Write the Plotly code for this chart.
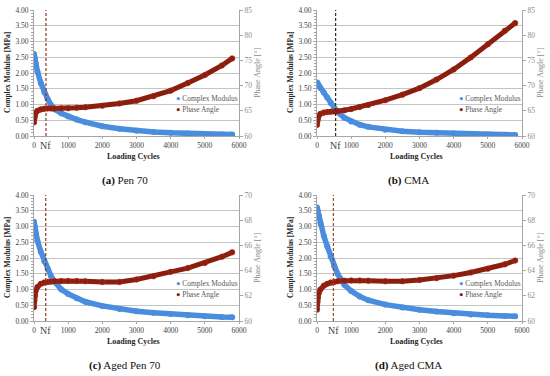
import plotly.graph_objects as go

# ---------------- data ----------------
cycles = [0, 10, 25, 50, 100, 200, 300, 400, 500, 600, 800, 1000, 1250, 1500,
          2000, 2500, 3000, 3500, 4000, 4500, 5000, 5500, 5800]

cm_pen70 = [2.60, 2.54, 2.45, 2.30, 2.05, 1.68, 1.40, 1.17, 0.98, 0.85, 0.72, 0.62, 0.52, 0.44,
            0.31, 0.23, 0.17, 0.13, 0.10, 0.08, 0.065, 0.05, 0.045]
pa_pen70 = [62.7, 63.4, 64.0, 64.6, 65.0, 65.3, 65.4, 65.45, 65.45, 65.45, 65.5, 65.5, 65.6, 65.7,
            66.0, 66.45, 67.0, 67.9, 69.0, 70.5, 72.1, 74.0, 75.4]

cm_cma = [1.70, 1.68, 1.65, 1.60, 1.52, 1.38, 1.22, 1.05, 0.88, 0.76, 0.58, 0.46, 0.36, 0.29,
          0.20, 0.15, 0.12, 0.10, 0.08, 0.065, 0.05, 0.04, 0.035]
pa_cma = [62.2, 62.9, 63.5, 64.0, 64.4, 64.65, 64.75, 64.8, 64.85, 64.9, 65.1, 65.35, 65.75, 66.15,
          67.1, 68.2, 69.5, 71.2, 73.2, 75.6, 78.2, 80.9, 82.4]

cm_aged_pen70 = [3.15, 3.05, 2.95, 2.78, 2.55, 2.20, 1.90, 1.65, 1.42, 1.25, 1.00, 0.86, 0.72, 0.61,
                 0.48, 0.38, 0.31, 0.26, 0.22, 0.18, 0.15, 0.13, 0.12]
pa_aged_pen70 = [61.1, 61.6, 62.0, 62.4, 62.7, 62.95, 63.05, 63.1, 63.12, 63.15, 63.17, 63.18, 63.17, 63.15,
                 63.1, 63.1, 63.3, 63.55, 63.9, 64.2, 64.6, 65.1, 65.45]

cm_aged_cma = [3.60, 3.55, 3.47, 3.35, 3.10, 2.70, 2.37, 2.05, 1.75, 1.50, 1.15, 0.95, 0.78, 0.66,
               0.52, 0.43, 0.36, 0.30, 0.25, 0.21, 0.18, 0.16, 0.15]
pa_aged_cma = [60.9, 61.5, 61.9, 62.2, 62.5, 62.8, 62.95, 63.05, 63.1, 63.15, 63.2, 63.22, 63.22, 63.2,
               63.15, 63.15, 63.25, 63.4, 63.6, 63.85, 64.15, 64.5, 64.8]

nf_cycles = [350, 545, 343, 480]
captions_tag = ["(a)", "(b)", "(c)", "(d)"]
captions_name = ["Pen 70", "CMA", "Aged Pen 70", "Aged CMA"]
pa_ranges = [[60, 85], [60, 85], [60, 70], [60, 70]]
pa_dticks = [5, 5, 2, 2]
cm_range = [0, 4]
cycle_range = [0, 6000]
series_names = ["Complex Modulus", "Phase Angle"]

cm_series = [cm_pen70, cm_cma, cm_aged_pen70, cm_aged_cma]
pa_series = [pa_pen70, pa_cma, pa_aged_pen70, pa_aged_cma]

# ---------------- layout helpers ----------------
W, H = 550, 376
origins = [(34, 10), (317, 10), (34, 195), (317, 195)]
PW, PH = 205, 126
FONT = "Liberation Serif"
BLUE = "#4a8ddf"
RED = "#8a1e0e"
GRID = "#c4c4c4"
AXIS = "#a6a6a6"
NF_COLORS = ["#8a3a26", "#3a2418", "#8a3a26", "#9a4a2a"]


def px(x):
    return x / W


def py(y):
    return 1 - y / H


fig = go.Figure()
layout = dict(width=W, height=H, margin=dict(l=0, r=0, t=0, b=0),
              paper_bgcolor="white", plot_bgcolor="white", showlegend=False)
annotations = []
shapes = []

for i in range(4):
    ox, oy = origins[i]
    xn = "" if i == 0 else str(i + 1)
    yl = str(2 * i + 1) if i > 0 else ""
    yr = str(2 * i + 2)
    xa, yla, yra = "x" + xn, "y" + yl, "y" + yr
    layout["xaxis" + xn] = dict(
        domain=[px(ox), px(ox + PW)], range=cycle_range, dtick=1000, anchor=yla,
        showgrid=False, zeroline=False, showline=True, linecolor=AXIS, linewidth=1,
        ticks="outside", ticklen=2, tickcolor=AXIS, automargin=False,
        tickfont=dict(family=FONT, size=7.5, color="#404040"))
    layout["yaxis" + yl] = dict(
        domain=[py(oy + PH), py(oy)], range=cm_range, dtick=0.5, tickformat=".2f", anchor=xa,
        showgrid=True, gridcolor=GRID, gridwidth=1, zeroline=False, automargin=False,
        showline=True, linecolor=AXIS, linewidth=1, ticks="outside", ticklen=3, tickcolor=AXIS,
        minor=dict(dtick=0.1, ticks="outside", ticklen=2, tickcolor=AXIS, showgrid=False),
        tickfont=dict(family=FONT, size=7.5, color="#404040"))
    layout["yaxis" + yr] = dict(
        overlaying=yla, side="right", anchor=xa, range=pa_ranges[i], dtick=pa_dticks[i],
        showgrid=False, zeroline=False, showline=True, linecolor=AXIS, linewidth=1,
        ticks="outside", ticklen=3, tickcolor=AXIS, automargin=False,
        tickfont=dict(family=FONT, size=7.5, color="#8c8c8c"))

    # complex modulus
    fig.add_trace(go.Scatter(x=cycles, y=cm_series[i], mode="lines", xaxis=xa, yaxis=yla,
                             line=dict(color=BLUE, width=5.5), name=series_names[0]))
    fig.add_trace(go.Scatter(x=cycles, y=cm_series[i], mode="markers", xaxis=xa, yaxis=yla,
                             marker=dict(color=BLUE, size=6), name=series_names[0]))
    # phase angle
    fig.add_trace(go.Scatter(x=cycles, y=pa_series[i], mode="lines", xaxis=xa, yaxis=yra,
                             line=dict(color=RED, width=5), name=series_names[1]))
    fig.add_trace(go.Scatter(x=cycles, y=pa_series[i], mode="markers", xaxis=xa, yaxis=yra,
                             marker=dict(color=RED, size=5.5, line=dict(color="#b02a18", width=0.6)),
                             name=series_names[1]))

    # Nf line
    shapes.append(dict(type="line", xref=xa, yref=yla + " domain", x0=nf_cycles[i], x1=nf_cycles[i],
                       y0=0, y1=1, line=dict(color=NF_COLORS[i], width=1.2, dash="3px,2px")))
    annotations.append(dict(text="Nf", xref=xa, yref=yla + " domain", x=nf_cycles[i], y=0,
                            xanchor="center", yanchor="top", yshift=-2, showarrow=False,
                            font=dict(family=FONT, size=10, color="#404040")))

    # legend (text)
    annotations.append(dict(text='<span style="color:%s">●</span> %s' % (BLUE, series_names[0]),
                            xref="paper", yref="paper", x=px(ox + 140), y=py(oy + 88),
                            xanchor="left", yanchor="middle", showarrow=False,
                            font=dict(family=FONT, size=7.4, color="#595959")))
    annotations.append(dict(text='<span style="color:%s">●</span> %s' % (RED, series_names[1]),
                            xref="paper", yref="paper", x=px(ox + 140), y=py(oy + 99),
                            xanchor="left", yanchor="middle", showarrow=False,
                            font=dict(family=FONT, size=7.4, color="#595959")))

    # axis titles
    annotations.append(dict(text="<b>Complex Modulus [MPa]</b>", xref="paper", yref="paper",
                            x=px(ox - 27), y=py(oy + 63), textangle=-90, showarrow=False,
                            xanchor="center", yanchor="middle",
                            font=dict(family=FONT, size=7.5, color="#262626")))
    annotations.append(dict(text="Phase Angle [°]", xref="paper", yref="paper",
                            x=px(ox + 223), y=py(oy + 63), textangle=-90,
                            showarrow=False, xanchor="center", yanchor="middle",
                            font=dict(family=FONT, size=8, color="#8c8c8c")))
    annotations.append(dict(text="<b>Loading Cycles</b>", xref="paper", yref="paper",
                            x=px(ox + 99), y=py(oy + 146), showarrow=False,
                            xanchor="center", yanchor="middle",
                            font=dict(family=FONT, size=8, color="#262626")))
    annotations.append(dict(text="<b>%s</b> %s" % (captions_tag[i], captions_name[i]),
                            xref="paper", yref="paper",
                            x=px(ox + 91), y=py(oy + 170), showarrow=False,
                            xanchor="center", yanchor="middle",
                            font=dict(family=FONT, size=11, color="#111111")))

layout["annotations"] = annotations
layout["shapes"] = shapes
fig.update_layout(**layout)
fig.write_html("out.html", config={"displayModeBar": False},
               post_script="document.body.style.margin='0px';")
